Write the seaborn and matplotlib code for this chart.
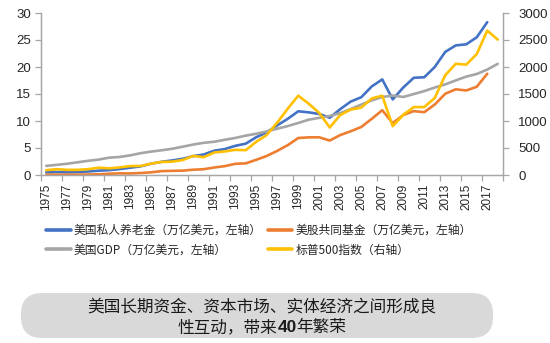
import numpy as np
import pandas as pd
import matplotlib
matplotlib.use("Agg")
import matplotlib.pyplot as plt
from matplotlib.lines import Line2D
from matplotlib.patches import FancyBboxPatch
import seaborn as sns

# ---- data -------------------------------------------------------------
years = list(range(1975, 2019))

# US private retirement assets, trillion USD (left axis), 1975-2017
pension = [0.5, 0.55, 0.5, 0.55, 0.65, 0.8, 0.9, 1.1, 1.35, 1.6,
           2.1, 2.45, 2.7, 3.0, 3.5, 3.8, 4.5, 4.8, 5.4, 5.8,
           7.0, 7.9, 9.2, 10.4, 11.8, 11.6, 11.3, 10.6, 12.2, 13.6,
           14.4, 16.4, 17.7, 14.0, 16.2, 18.0, 18.1, 20.0, 22.8, 24.0,
           24.2, 25.5, 28.3]

# US mutual fund assets, trillion USD (left axis), 1975-2017
mutual_funds = [0.05, 0.05, 0.05, 0.06, 0.09, 0.13, 0.24, 0.30, 0.29, 0.37,
                0.50, 0.72, 0.77, 0.81, 0.98, 1.07, 1.39, 1.64, 2.07, 2.16,
                2.81, 3.53, 4.47, 5.53, 6.85, 6.97, 6.98, 6.38, 7.40, 8.10,
                8.89, 10.40, 12.00, 9.60, 11.11, 11.83, 11.63, 13.05, 15.05, 15.87,
                15.65, 16.34, 18.75]

# US GDP, trillion USD (left axis), 1975-2018
gdp = [1.69, 1.88, 2.09, 2.36, 2.63, 2.86, 3.21, 3.34, 3.64, 4.04,
       4.34, 4.58, 4.86, 5.24, 5.64, 5.96, 6.16, 6.52, 6.86, 7.29,
       7.64, 8.07, 8.58, 9.06, 9.63, 10.25, 10.58, 10.94, 11.46, 12.21,
       13.04, 13.81, 14.45, 14.71, 14.45, 14.99, 15.54, 16.20, 16.78, 17.52,
       18.22, 18.71, 19.52, 20.58]

# S&P 500 year-end close (right axis), 1975-2018
sp500 = [90, 107, 95, 96, 108, 136, 123, 141, 165, 167,
         211, 242, 247, 278, 353, 330, 417, 436, 466, 459,
         616, 741, 970, 1229, 1469, 1320, 1148, 880, 1112, 1212,
         1248, 1418, 1468, 903, 1115, 1258, 1258, 1426, 1848, 2059,
         2044, 2239, 2674, 2507]

labels = ["美国私人养老金（万亿美元，左轴）", "美股共同基金（万亿美元，左轴）",
          "美国GDP（万亿美元，左轴）", "标普500指数（右轴）"]
colors = ["#4472C4", "#ED7D31", "#A5A5A5", "#FFC000"]

left_ticks = [0, 5, 10, 15, 20, 25, 30]
right_ticks = [0, 500, 1000, 1500, 2000, 2500, 3000]

headline_1 = "美国长期资金、资本市场、实体经济之间形成良"
headline_2 = ["性互动，带来", "40", "年繁荣"]

# ---- frame ------------------------------------------------------------
n = len(years)
idx = np.arange(n)
df = pd.DataFrame({
    "idx": idx,
    "pension": pension + [np.nan] * (n - len(pension)),
    "funds": mutual_funds + [np.nan] * (n - len(mutual_funds)),
    "gdp": gdp,
    "sp500": sp500,
})

sns.set_theme(style="white")
plt.rcParams["font.family"] = ["Noto Sans CJK SC", "DejaVu Sans"]

fig = plt.figure(figsize=(5.5, 3.43), dpi=100)
ax = fig.add_axes([41 / 550, 1 - 175 / 343, (503 - 41) / 550, (175 - 13) / 343])
ax2 = ax.twinx()

lw = 1.9
sns.lineplot(data=df, x="idx", y="pension", ax=ax, color=colors[0], lw=lw)
sns.lineplot(data=df, x="idx", y="funds", ax=ax, color=colors[1], lw=lw)
sns.lineplot(data=df, x="idx", y="gdp", ax=ax, color=colors[2], lw=lw)
sns.lineplot(data=df, x="idx", y="sp500", ax=ax2, color=colors[3], lw=lw)

spine_c = "#A6A6A6"
text_c = "#262626"
year_font = dict(family=["Liberation Sans", "DejaVu Sans"], size=8.5)
val_font = dict(family=["Liberation Sans", "DejaVu Sans"], size=9.5)

ax.set_xlim(-0.5, n - 0.5)
ax.set_ylim(0, 30)
ax2.set_ylim(0, 3000)
ax.set_xlabel("")
ax.set_ylabel("")
ax2.set_xlabel("")
ax2.set_ylabel("")

for a in (ax, ax2):
    for s in a.spines.values():
        s.set_color(spine_c)
        s.set_linewidth(0.9)
    a.spines["top"].set_visible(False)
    a.grid(False)

# category axis: tick marks every two categories, labels at category centres
ax.set_xticks(np.arange(-0.5, n, 2))
ax.set_xticklabels([])
ax.set_xticks(idx[::2], minor=True)
ax.set_xticklabels([str(y) for y in years[::2]], minor=True, rotation=90,
                   **year_font, color=text_c)
ax.tick_params(axis="x", which="major", direction="out", length=4,
               color=spine_c, width=0.9, bottom=True)
ax.tick_params(axis="x", which="minor", length=0, pad=6, bottom=True)

ax.set_yticks(left_ticks)
ax.set_yticklabels([str(v) for v in left_ticks], **val_font, color=text_c)
ax.tick_params(axis="y", direction="out", length=4, color=spine_c,
               width=0.9, left=True, pad=3)
ax2.set_yticks(right_ticks)
ax2.set_yticklabels([str(v) for v in right_ticks], **val_font, color=text_c)
ax2.tick_params(axis="y", direction="out", length=4, color=spine_c,
                width=0.9, right=True, pad=7)

# ---- legend -----------------------------------------------------------
handles = [Line2D([], [], color=c, lw=2.6) for c in colors]
order = [0, 2, 1, 3]
fig.legend([handles[i] for i in order], [labels[i] for i in order],
           ncol=2, loc="upper left", bbox_to_anchor=(46 / 550, 1 - 224 / 343),
           frameon=False, prop=dict(size=8.5), labelcolor=text_c,
           handlelength=2.1, handletextpad=0.25, columnspacing=0.5,
           labelspacing=0.55, borderpad=0, borderaxespad=0)

# ---- headline box -----------------------------------------------------
box = FancyBboxPatch((0.21, 0.05), 4.72, 0.45,
                     boxstyle="round,pad=0,rounding_size=0.21",
                     transform=fig.dpi_scale_trans, facecolor="#D9D9D9",
                     edgecolor="none", zorder=1)
fig.patches.append(box)

cx = 2.62
fig.text(cx, 0.355, headline_1, transform=fig.dpi_scale_trans, ha="center",
         va="center", fontsize=12, color="#1a1a1a", zorder=2)

renderer = fig.canvas.get_renderer()
parts = []
for k, s in enumerate(headline_2):
    t = fig.text(0, 0.155, s, transform=fig.dpi_scale_trans, ha="left",
                 va="center", fontsize=12.5 if k == 1 else 12, color="#1a1a1a",
                 zorder=2, fontweight="bold" if k == 1 else "normal",
                 family=["Liberation Sans", "DejaVu Sans"] if k == 1 else None)
    parts.append(t)
widths = [p.get_window_extent(renderer).width / fig.dpi for p in parts]
x0 = cx - sum(widths) / 2
for p, w in zip(parts, widths):
    p.set_x(x0)
    x0 += w

fig.savefig("out.png", dpi=100)
